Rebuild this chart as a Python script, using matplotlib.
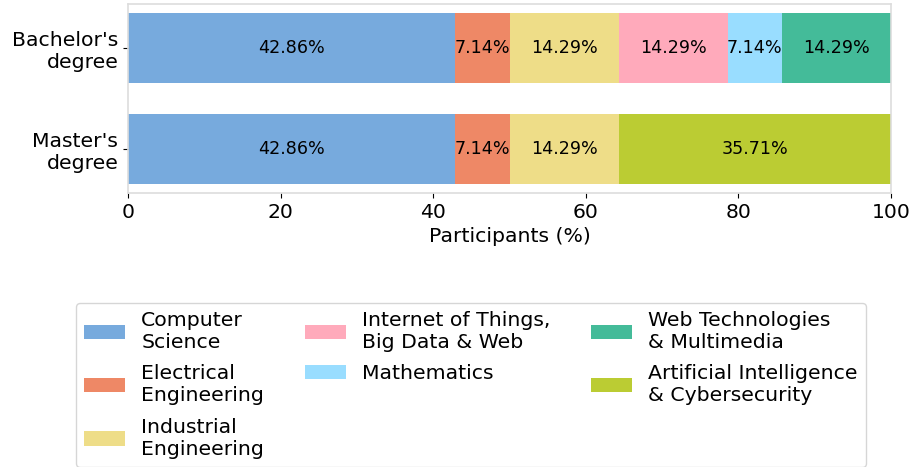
import numpy as np
import matplotlib.pyplot as plt

degrees = ["Master's\ndegree", "Bachelor's\ndegree"]
fields = ['Computer\nScience', 'Electrical\nEngineering', 'Industrial\nEngineering',
          'Internet of Things,\nBig Data & Web', 'Mathematics',
          'Web Technologies\n& Multimedia', 'Artificial Intelligence\n& Cybersecurity']
# shares per field, order: [Master's, Bachelor's]
cs   = [42.86, 42.86]
ee   = [7.14, 7.14]
ie   = [14.29, 14.29]
iot  = [0.0, 14.29]
math = [0.0, 7.14]
web  = [0.0, 14.29]
ai   = [35.71, 0.0]
colors = ['#77AADD', '#EE8866', '#EEDD88', '#FFAABB', '#99DDFF', '#44BB99', '#BBCC33']

series = [cs, ee, ie, iot, math, web, ai]
FS = 14.7

fig = plt.figure(figsize=(9.12, 4.67), dpi=100)
ax = fig.add_axes([0.1404, 0.5867, 0.8366, 0.4047])

y = np.arange(len(degrees))
left = np.zeros(len(degrees))
for vals, lab, col in zip(series, fields, colors):
    vals = np.array(vals)
    bars = ax.barh(y, vals, left=left, height=0.7, color=col, label=lab)
    ax.bar_label(bars, labels=[f'{v:.2f}%' if v > 0 else '' for v in vals],
                 label_type='center', fontsize=12.6)
    left += vals

ax.set_xlim(0, 100)
ax.set_yticks(y)
ax.set_yticklabels(degrees, fontsize=FS)
ax.tick_params(axis='x', labelsize=FS)
ax.set_xlabel('Participants (%)', fontsize=FS)
for s in ax.spines.values():
    s.set_color('#dddddd')
    s.set_linewidth(1.2)

leg = fig.legend(loc='upper center', bbox_to_anchor=(471 / 912, 1 - 303 / 467), ncol=3,
                 fontsize=FS, edgecolor='#cccccc', borderaxespad=0, labelspacing=0.6)

fig.savefig('out.png', dpi=100)
